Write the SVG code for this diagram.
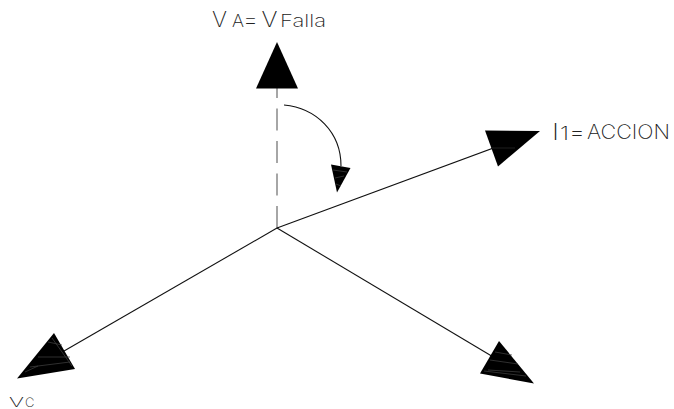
<svg xmlns="http://www.w3.org/2000/svg" width="674" height="409" viewBox="0 0 674 409">
<style>
.l{fill:none;stroke:#111;stroke-width:1.1}
.d{fill:none;stroke:#777;stroke-width:1.3;stroke-dasharray:22 10.500}
.h{fill:#000;stroke:none}
.s{fill:none;stroke:#444;stroke-width:.7}
.t{font-family:"Inter","Liberation Sans",sans-serif;font-weight:200;fill:#222;stroke:none}
</style>
<rect width="674" height="409" fill="#fff"/>
<g id="connectors">
<line class="d" x1="277" y1="228" x2="277" y2="84"/>
<line class="l" x1="277" y1="228" x2="515" y2="140"/>
<line class="l" x1="277" y1="228" x2="45" y2="362"/>
<line class="l" x1="277" y1="228" x2="505" y2="364"/>
<path class="l" d="M284 105C316 108 341 132 341 166"/>
</g>
<g id="node-va">
<polygon class="h" points="277,42 256,88.500 298,88.500"/>
<text class="t" font-size="21" x="212" y="27" textLength="15" lengthAdjust="spacingAndGlyphs">V</text>
<text class="t" font-size="17" x="232" y="27" textLength="12" lengthAdjust="spacingAndGlyphs">A</text>
<text class="t" font-size="21" x="243" y="27" textLength="15" lengthAdjust="spacingAndGlyphs">=</text>
<text class="t" font-size="21" x="261.500" y="27" textLength="16" lengthAdjust="spacingAndGlyphs">V</text>
<text class="t" font-size="17" x="280" y="27" textLength="46" lengthAdjust="spacingAndGlyphs">Falla</text>
</g>
<g id="node-arc-head">
<polygon class="h" points="331,164.500 350.500,168 337,192.500"/>
<path class="s" d="M333 170L347 172M335 178L344 176M336 184L341 186"/>
</g>
<g id="node-i1">
<polygon class="h" points="485,130.500 540,131 498,166.500"/>
<line x1="492" y1="148" x2="515" y2="148" stroke="#333" stroke-width=".6"/>
<text class="t" font-size="23" x="552" y="140" textLength="7" lengthAdjust="spacingAndGlyphs">I</text>
<text class="t" font-size="18" x="560" y="140" textLength="9" lengthAdjust="spacingAndGlyphs">1</text>
<text class="t" font-size="23" x="569" y="140" textLength="16" lengthAdjust="spacingAndGlyphs">=</text>
<text class="t" font-size="20" x="587" y="139" textLength="83" lengthAdjust="spacingAndGlyphs">ACCION</text>
</g>
<g id="node-vc">
<polygon class="h" points="17,378.500 54,333 75,369"/>
<path class="s" d="M48 342L62 345M38 357L70 357M30 367L70 362M25 372L38 366M52 338L72 366"/>
<text class="t" font-size="13" x="9" y="407" textLength="15" lengthAdjust="spacingAndGlyphs">V</text>
<text class="t" font-size="13" x="25" y="407">C</text>
</g>
<g id="node-vb">
<polygon class="h" points="480,373.500 499,341 534,383.500"/>
<path class="s" d="M495 352L512 355M490 360L518 364M484 371L526 376M488 370L520 372"/>
</g>
</svg>
